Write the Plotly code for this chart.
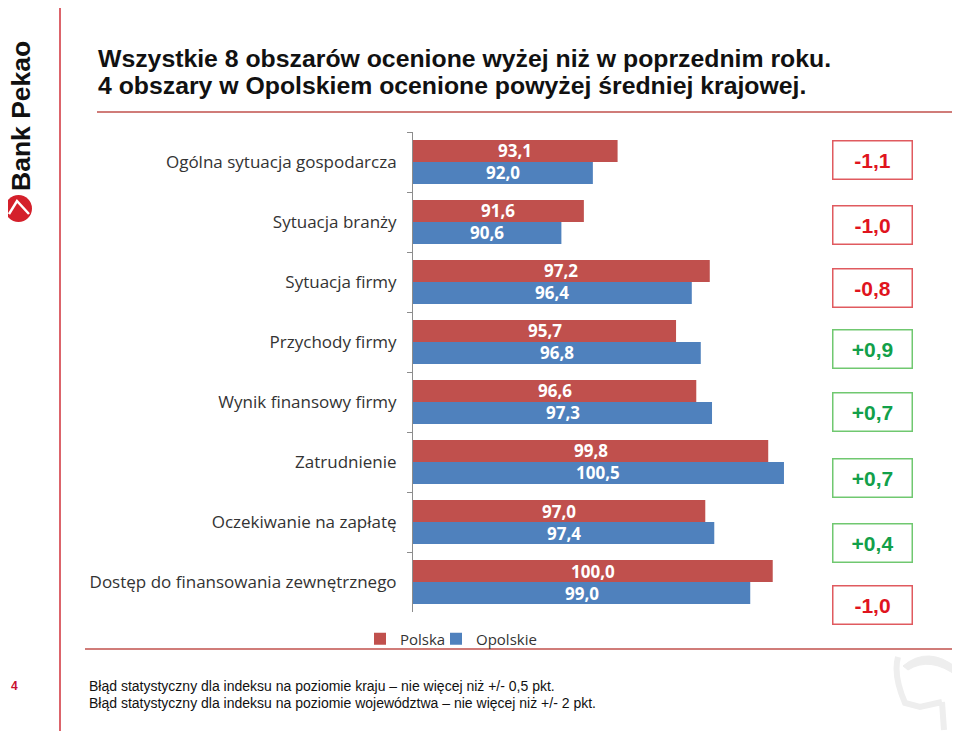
import plotly.graph_objects as go

# ---------------- data ----------------
categories = [
    "Ogólna sytuacja gospodarcza",
    "Sytuacja branży",
    "Sytuacja firmy",
    "Przychody firmy",
    "Wynik finansowy firmy",
    "Zatrudnienie",
    "Oczekiwanie na zapłatę",
    "Dostęp do finansowania zewnętrznego",
]
polska = [93.1, 91.6, 97.2, 95.7, 96.6, 99.8, 97.0, 100.0]
opolskie = [92.0, 90.6, 96.4, 96.8, 97.3, 100.5, 97.4, 99.0]
diff_labels = ["-1,1", "-1,0", "-0,8", "+0,9", "+0,7", "+0,7", "+0,4", "-1,0"]

series_names = ["Polska", "Opolskie"]
title_lines = [
    "Wszystkie 8 obszarów ocenione wyżej niż w poprzednim roku.",
    "4 obszary w Opolskiem ocenione powyżej średniej krajowej.",
]
footnotes = [
    "Błąd statystyczny dla indeksu na poziomie kraju – nie więcej niż +/- 0,5 pkt.",
    "Błąd statystyczny dla indeksu na poziomie województwa – nie więcej niż +/- 2 pkt.",
]
page_number = "4"
brand = "Bank Pekao"

# ---------------- layout constants ----------------
# page body has an 8px margin: figure is sized to fill the rest of the window
OFF = 8
W, H = 960 - OFF, 734 - OFF
RED = "#C0504D"
BLUE = "#4F81BD"
LINE_RED = "#D0313A"
X_MIN, X_MAX = 84, 101.48
box_centers_px = [159.5, 224.5, 288, 348.5, 412, 477.5, 543, 604.5]
legend_x_px = [360, 436]


def px_x(x):
    return (x - OFF) / W


def px_y(y):
    return 1 - (y - OFF) / H


def fmt(v):
    return f"{v:.1f}".replace(".", ",")


fig = go.Figure()
for i, (name, vals, col) in enumerate([(series_names[0], polska, RED), (series_names[1], opolskie, BLUE)]):
    fig.add_trace(go.Bar(
        y=categories, x=vals, name=name, orientation="h",
        marker=dict(color=col, line=dict(width=0)),
        hoverinfo="skip", legend="legend" if i == 0 else "legend2",
    ))

annotations = []
# value labels centred on the visible part of each bar
for vals, shift in [(polska, 11), (opolskie, -11)]:
    for cat, v in zip(categories, vals):
        annotations.append(dict(
            text=fmt(v), x=(X_MIN + v) / 2, y=cat, xref="x", yref="y", yshift=shift,
            xanchor="center", yanchor="middle", showarrow=False,
            font=dict(family="Open Sans", size=17, color="white", weight=700),
        ))
# title
for i, line in enumerate(title_lines):
    annotations.append(dict(
        text=line, x=px_x(96), y=px_y(58 + 28 * i), xref="paper", yref="paper",
        xanchor="left", yanchor="middle", showarrow=False,
        font=dict(family="Liberation Sans, Arial", size=24.8, color="#111111", weight=700),
    ))
# difference boxes
for lab, cy in zip(diff_labels, box_centers_px):
    pos = lab.startswith("+")
    txt_col = "#12A04A" if pos else "#E0141E"
    brd_col = "#70C870" if pos else "#E05A5F"
    annotations.append(dict(
        text=lab, x=px_x(872), y=px_y(cy), xref="paper", yref="paper",
        xanchor="center", yanchor="middle", showarrow=False,
        width=78, height=37, borderwidth=1.5, bordercolor=brd_col, borderpad=0,
        font=dict(family="Liberation Sans, Arial", size=21, color=txt_col, weight=700),
    ))
# footnotes
for i, line in enumerate(footnotes):
    annotations.append(dict(
        text=line, x=px_x(87), y=px_y(686 + 17 * i), xref="paper", yref="paper",
        xanchor="left", yanchor="middle", showarrow=False,
        font=dict(family="Liberation Sans, Arial", size=14, color="#111111"),
    ))
# page number
annotations.append(dict(
    text=page_number, x=px_x(14), y=px_y(686), xref="paper", yref="paper",
    xanchor="center", yanchor="middle", showarrow=False,
    font=dict(family="Liberation Sans, Arial", size=12, color="#C8102E", weight=700),
))
# brand text
annotations.append(dict(
    text=brand, x=px_x(21), y=px_y(116), xref="paper", yref="paper",
    xanchor="center", yanchor="middle", showarrow=False, textangle=-90,
    font=dict(family="Liberation Sans, Arial", size=26.5, color="#111111", weight=700),
))

WM = "#EEEEEE"
shapes = [
    dict(type="line", xref="paper", yref="paper", x0=px_x(60), x1=px_x(60), y0=px_y(OFF), y1=px_y(731),
         line=dict(color=LINE_RED, width=1.5)),
    dict(type="line", xref="paper", yref="paper", x0=px_x(97), x1=px_x(955), y0=px_y(112), y1=px_y(112),
         line=dict(color=RED, width=1.5)),
    dict(type="line", xref="paper", yref="paper", x0=px_x(85), x1=px_x(955), y0=px_y(649), y1=px_y(649),
         line=dict(color=RED, width=1.5)),
    dict(type="circle", xref="paper", yref="paper", x0=px_x(5), x1=px_x(32), y0=px_y(195), y1=px_y(222),
         fillcolor="#D4202B", line=dict(width=0)),
    dict(type="path", xref="paper", yref="paper",
         path=f"M {px_x(9)} {px_y(214)} L {px_x(17)} {px_y(201)} L {px_x(29)} {px_y(214)}",
         line=dict(color="white", width=2.5)),
    # faint watermark bottom-right
    dict(type="path", xref="paper", yref="paper",
         path=(f"M {px_x(903)} {px_y(666)} Q {px_x(928)} {px_y(645)} {px_x(957)} {px_y(668)} "
               f"L {px_x(957)} {px_y(676)} Q {px_x(930)} {px_y(656)} {px_x(908)} {px_y(670)} Z"),
         fillcolor=WM, line=dict(color=WM, width=1)),
    dict(type="path", xref="paper", yref="paper",
         path=(f"M {px_x(898)} {px_y(657)} Q {px_x(893)} {px_y(675)} {px_x(905)} {px_y(703)} "
               f"L {px_x(920)} {px_y(707)} L {px_x(942)} {px_y(702)} "
               f"M {px_x(942)} {px_y(702)} L {px_x(944)} {px_y(730)} "
               f"M {px_x(956)} {px_y(700)} L {px_x(956)} {px_y(728)}"),
         line=dict(color=WM, width=6)),
]

legend_common = dict(
    orientation="h", y=px_y(639), xanchor="left", yanchor="middle",
    font=dict(family="Open Sans", size=15, color="#333333"),
    itemwidth=30, bgcolor="rgba(0,0,0,0)",
)

fig.update_layout(
    width=W, height=H,
    margin=dict(l=0, r=0, t=0, b=0),
    paper_bgcolor="white", plot_bgcolor="white",
    barmode="group", bargap=0.267, bargroupgap=0.0,
    showlegend=True,
    legend=dict(x=px_x(legend_x_px[0]), **legend_common),
    legend2=dict(x=px_x(legend_x_px[1]), **legend_common),
    xaxis=dict(domain=[px_x(413), px_x(806)], range=[X_MIN, X_MAX], visible=False, fixedrange=True),
    yaxis=dict(
        domain=[px_y(612), px_y(132)], type="category", autorange="reversed",
        showline=True, linecolor="#8c8c8c", linewidth=1,
        ticks="outside", ticklen=5, tickcolor="#8c8c8c", tickson="boundaries",
        showgrid=False, ticklabelstandoff=12, fixedrange=True,
        tickfont=dict(family="Open Sans", size=17, color="#333333"),
    ),
    annotations=annotations,
    shapes=shapes,
)

fig.write_html("out.html")
